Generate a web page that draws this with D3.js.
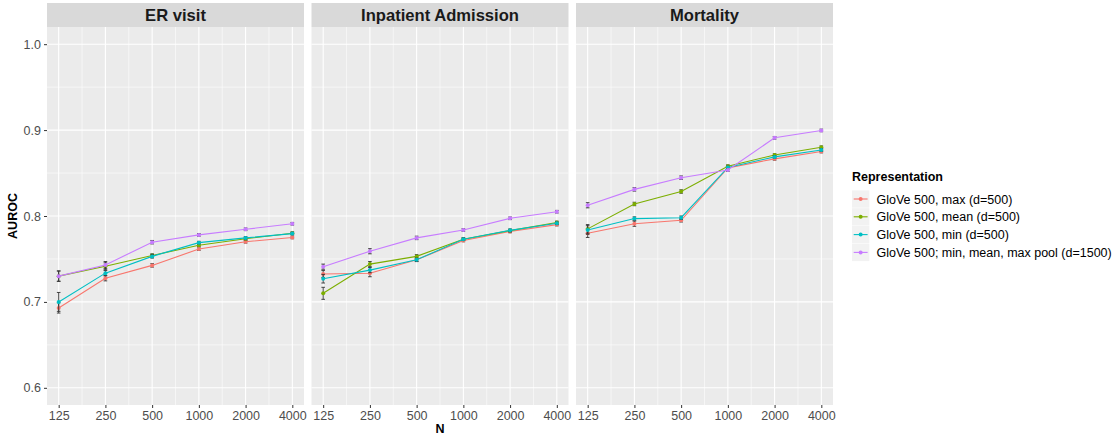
<!DOCTYPE html>
<html>
<head>
<meta charset="utf-8">
<script src="https://cdn.jsdelivr.net/npm/d3@7"></script>
<style>
  body { margin: 0; background: #fff; }
  text { font-family: "Liberation Sans", Arial, sans-serif; }
</style>
</head>
<body>
<div class="container"></div>
<script>
// data
let nValues = [125, 250, 500, 1000, 2000, 4000];
let panels = ['ER visit', 'Inpatient Admission', 'Mortality'];
let seriesNames = [
  'GloVe 500, max (d=500)',
  'GloVe 500, mean (d=500)',
  'GloVe 500, min (d=500)',
  'GloVe 500; min, mean, max pool (d=1500)'
];
let yTicks = [0.6, 0.7, 0.8, 0.9, 1.0];

let erMax = [0.693, 0.7275, 0.7425, 0.7615, 0.770, 0.775];
let erMean = [0.730, 0.7415, 0.754, 0.766, 0.7735, 0.780];
let erMin = [0.700, 0.7335, 0.753, 0.769, 0.7745, 0.7795];
let erPool = [0.730, 0.743, 0.7695, 0.778, 0.7845, 0.791];

let inMax = [0.7325, 0.7333, 0.749, 0.7715, 0.782, 0.790];
let inMean = [0.710, 0.744, 0.753, 0.773, 0.783, 0.7925];
let inMin = [0.727, 0.737, 0.749, 0.773, 0.7833, 0.7915];
let inPool = [0.741, 0.759, 0.7745, 0.7837, 0.7973, 0.805];

let moMax = [0.780, 0.791, 0.795, 0.856, 0.8665, 0.875];
let moMean = [0.785, 0.814, 0.8285, 0.858, 0.871, 0.880];
let moMin = [0.7837, 0.797, 0.798, 0.8565, 0.8688, 0.8768];
let moPool = [0.8125, 0.831, 0.8446, 0.8535, 0.891, 0.8996];

// half-widths of the error bars
let erMaxErr = [0.006, 0.003, 0.002, 0.0015, 0.0015, 0.0015];
let erMeanErr = [0.006, 0.004, 0.002, 0.0015, 0.0015, 0.0015];
let erMinErr = [0.011, 0.003, 0.002, 0.0015, 0.0015, 0.0015];
let erPoolErr = [0.006, 0.004, 0.002, 0.0015, 0.0015, 0.0015];

let inMaxErr = [0.004, 0.004, 0.002, 0.0015, 0.0015, 0.0015];
let inMeanErr = [0.007, 0.003, 0.002, 0.0015, 0.0015, 0.0015];
let inMinErr = [0.005, 0.003, 0.002, 0.0015, 0.0015, 0.0015];
let inPoolErr = [0.003, 0.003, 0.002, 0.0015, 0.0015, 0.0015];

let moMaxErr = [0.005, 0.003, 0.002, 0.0015, 0.0015, 0.0015];
let moMeanErr = [0.005, 0.002, 0.002, 0.0015, 0.0015, 0.0015];
let moMinErr = [0.005, 0.002, 0.002, 0.0015, 0.0015, 0.0015];
let moPoolErr = [0.003, 0.002, 0.002, 0.0015, 0.0015, 0.0015];

let panelValues = [
  [erMax, erMean, erMin, erPool],
  [inMax, inMean, inMin, inPool],
  [moMax, moMean, moMin, moPool]
];
let panelErrors = [
  [erMaxErr, erMeanErr, erMinErr, erPoolErr],
  [inMaxErr, inMeanErr, inMinErr, inPoolErr],
  [moMaxErr, moMeanErr, moMinErr, moPoolErr]
];

let colors = ['#F8766D', '#7CAE00', '#00BFC4', '#C77CFF'];

let width = 1120;
let height = 436;
let panelTop = 27;
let panelBottom = 405;
let stripTop = 3;
let panelLeft = 47;
let panelWidth = 257;
let panelStep = 264.5;

let tickFont = '12.5px';
let stripFont = '16.6px';
let labelFont = '12.5px';

let svg = d3
  .select('.container')
  .append('svg')
  .attr('width', width)
  .attr('height', height);

let yScale = d3.scaleLinear().domain([0.58, 1.02]).range([panelBottom, panelTop]);

let expand = Math.pow(2, 0.25);
let xScale = d3
  .scaleLog()
  .base(2)
  .domain([125 / expand, 4000 * expand])
  .range([0, panelWidth]);

let minorY = [0.65, 0.75, 0.85, 0.95];
let minorX = nValues.slice(1).map((n) => n / Math.SQRT2);

let line = d3
  .line()
  .x((d) => xScale(d.n))
  .y((d) => yScale(d.v));

panels.forEach((title, p) => {
  let g = svg.append('g').attr('transform', 'translate(' + (panelLeft + p * panelStep) + ',0)');

  // strip
  g.append('rect')
    .attr('x', 0)
    .attr('y', stripTop)
    .attr('width', panelWidth)
    .attr('height', panelTop - stripTop)
    .attr('fill', '#D9D9D9');
  g.append('text')
    .attr('x', panelWidth / 2)
    .attr('y', 21)
    .attr('text-anchor', 'middle')
    .style('font-size', stripFont)
    .style('font-weight', 'bold')
    .attr('fill', '#1A1A1A')
    .text(title);

  // panel background
  g.append('rect')
    .attr('x', 0)
    .attr('y', panelTop)
    .attr('width', panelWidth)
    .attr('height', panelBottom - panelTop)
    .attr('fill', '#EBEBEB');

  g.selectAll('.minor-y')
    .data(minorY)
    .enter()
    .append('line')
    .attr('x1', 0)
    .attr('x2', panelWidth)
    .attr('y1', (d) => yScale(d))
    .attr('y2', (d) => yScale(d))
    .attr('stroke', '#fff')
    .attr('stroke-width', 0.55);
  g.selectAll('.minor-x')
    .data(minorX)
    .enter()
    .append('line')
    .attr('y1', panelTop)
    .attr('y2', panelBottom)
    .attr('x1', (d) => xScale(d))
    .attr('x2', (d) => xScale(d))
    .attr('stroke', '#fff')
    .attr('stroke-width', 0.55);
  g.selectAll('.major-y')
    .data(yTicks)
    .enter()
    .append('line')
    .attr('x1', 0)
    .attr('x2', panelWidth)
    .attr('y1', (d) => yScale(d))
    .attr('y2', (d) => yScale(d))
    .attr('stroke', '#fff')
    .attr('stroke-width', 1.1);
  g.selectAll('.major-x')
    .data(nValues)
    .enter()
    .append('line')
    .attr('y1', panelTop)
    .attr('y2', panelBottom)
    .attr('x1', (d) => xScale(d))
    .attr('x2', (d) => xScale(d))
    .attr('stroke', '#fff')
    .attr('stroke-width', 1.1);

  // x axis
  let xAxis = d3
    .axisBottom(xScale)
    .tickValues(nValues)
    .tickFormat(d3.format('d'))
    .tickSize(3)
    .tickPadding(3);
  let xg = g.append('g').attr('transform', 'translate(0,' + panelBottom + ')').call(xAxis);
  xg.select('.domain').remove();
  xg.selectAll('line').attr('stroke', '#333');
  xg.selectAll('text')
    .attr('fill', '#4D4D4D')
    .style('font-size', tickFont)
    .style('font-family', '"Liberation Sans", Arial, sans-serif');

  if (p === 0) {
    let yAxis = d3.axisLeft(yScale).tickValues(yTicks).tickFormat(d3.format('.1f')).tickSize(3).tickPadding(3);
    let yg = g.append('g').call(yAxis);
    yg.select('.domain').remove();
    yg.selectAll('line').attr('stroke', '#333');
    yg.selectAll('text')
      .attr('fill', '#4D4D4D')
      .style('font-size', tickFont)
      .style('font-family', '"Liberation Sans", Arial, sans-serif');
  }

  // series
  panelValues[p].forEach((vals, s) => {
    let pts = vals.map((v, i) => ({ n: nValues[i], v: v, e: panelErrors[p][s][i] }));

    g.append('g')
      .selectAll('.err')
      .data(pts)
      .enter()
      .append('path')
      .attr('d', (d) => {
        let x = xScale(d.n);
        let y1 = yScale(d.v + d.e);
        let y2 = yScale(d.v - d.e);
        return 'M' + (x - 1.8) + ',' + y1 + 'H' + (x + 1.8) + 'M' + x + ',' + y1 + 'V' + y2 + 'M' + (x - 1.8) + ',' + y2 + 'H' + (x + 1.8);
      })
      .attr('stroke', '#333')
      .attr('stroke-width', 0.9)
      .attr('fill', 'none');

    g.append('path')
      .datum(pts)
      .attr('d', line)
      .attr('fill', 'none')
      .attr('stroke', colors[s])
      .attr('stroke-width', 1.1);

    g.append('g')
      .selectAll('.dot')
      .data(pts)
      .enter()
      .append('circle')
      .attr('cx', (d) => xScale(d.n))
      .attr('cy', (d) => yScale(d.v))
      .attr('r', 2)
      .attr('fill', colors[s]);
  });
});

// axis titles
svg.append('text')
  .attr('x', panelLeft + (panelStep * 2 + panelWidth) / 2)
  .attr('y', 433)
  .attr('text-anchor', 'middle')
  .style('font-size', labelFont)
  .style('font-weight', 'bold')
  .attr('fill', '#000')
  .text('N');

svg.append('text')
  .attr('transform', 'translate(17,' + (panelTop + panelBottom) / 2 + ') rotate(-90)')
  .attr('text-anchor', 'middle')
  .style('font-size', labelFont)
  .style('font-weight', 'bold')
  .attr('fill', '#000')
  .text('AUROC');

// legend
let legend = svg.append('g').attr('transform', 'translate(852,0)');
legend.append('text')
  .attr('x', 0)
  .attr('y', 181)
  .style('font-size', labelFont)
  .style('font-weight', 'bold')
  .attr('fill', '#000')
  .text('Representation');

seriesNames.forEach((name, i) => {
  let cy = 199 + i * 17.8;
  legend.append('rect')
    .attr('x', 0)
    .attr('y', cy - 8.6)
    .attr('width', 17.3)
    .attr('height', 17.3)
    .attr('fill', '#F2F2F2');
  legend.append('line')
    .attr('x1', 1.7)
    .attr('x2', 15.6)
    .attr('y1', cy)
    .attr('y2', cy)
    .attr('stroke', colors[i])
    .attr('stroke-width', 1.1);
  legend.append('circle')
    .attr('cx', 8.65)
    .attr('cy', cy)
    .attr('r', 2)
    .attr('fill', colors[i]);
  legend.append('text')
    .attr('x', 24.5)
    .attr('y', cy + 4.5)
    .style('font-size', labelFont)
    .attr('fill', '#000')
    .text(name);
});
</script>
</body>
</html>
